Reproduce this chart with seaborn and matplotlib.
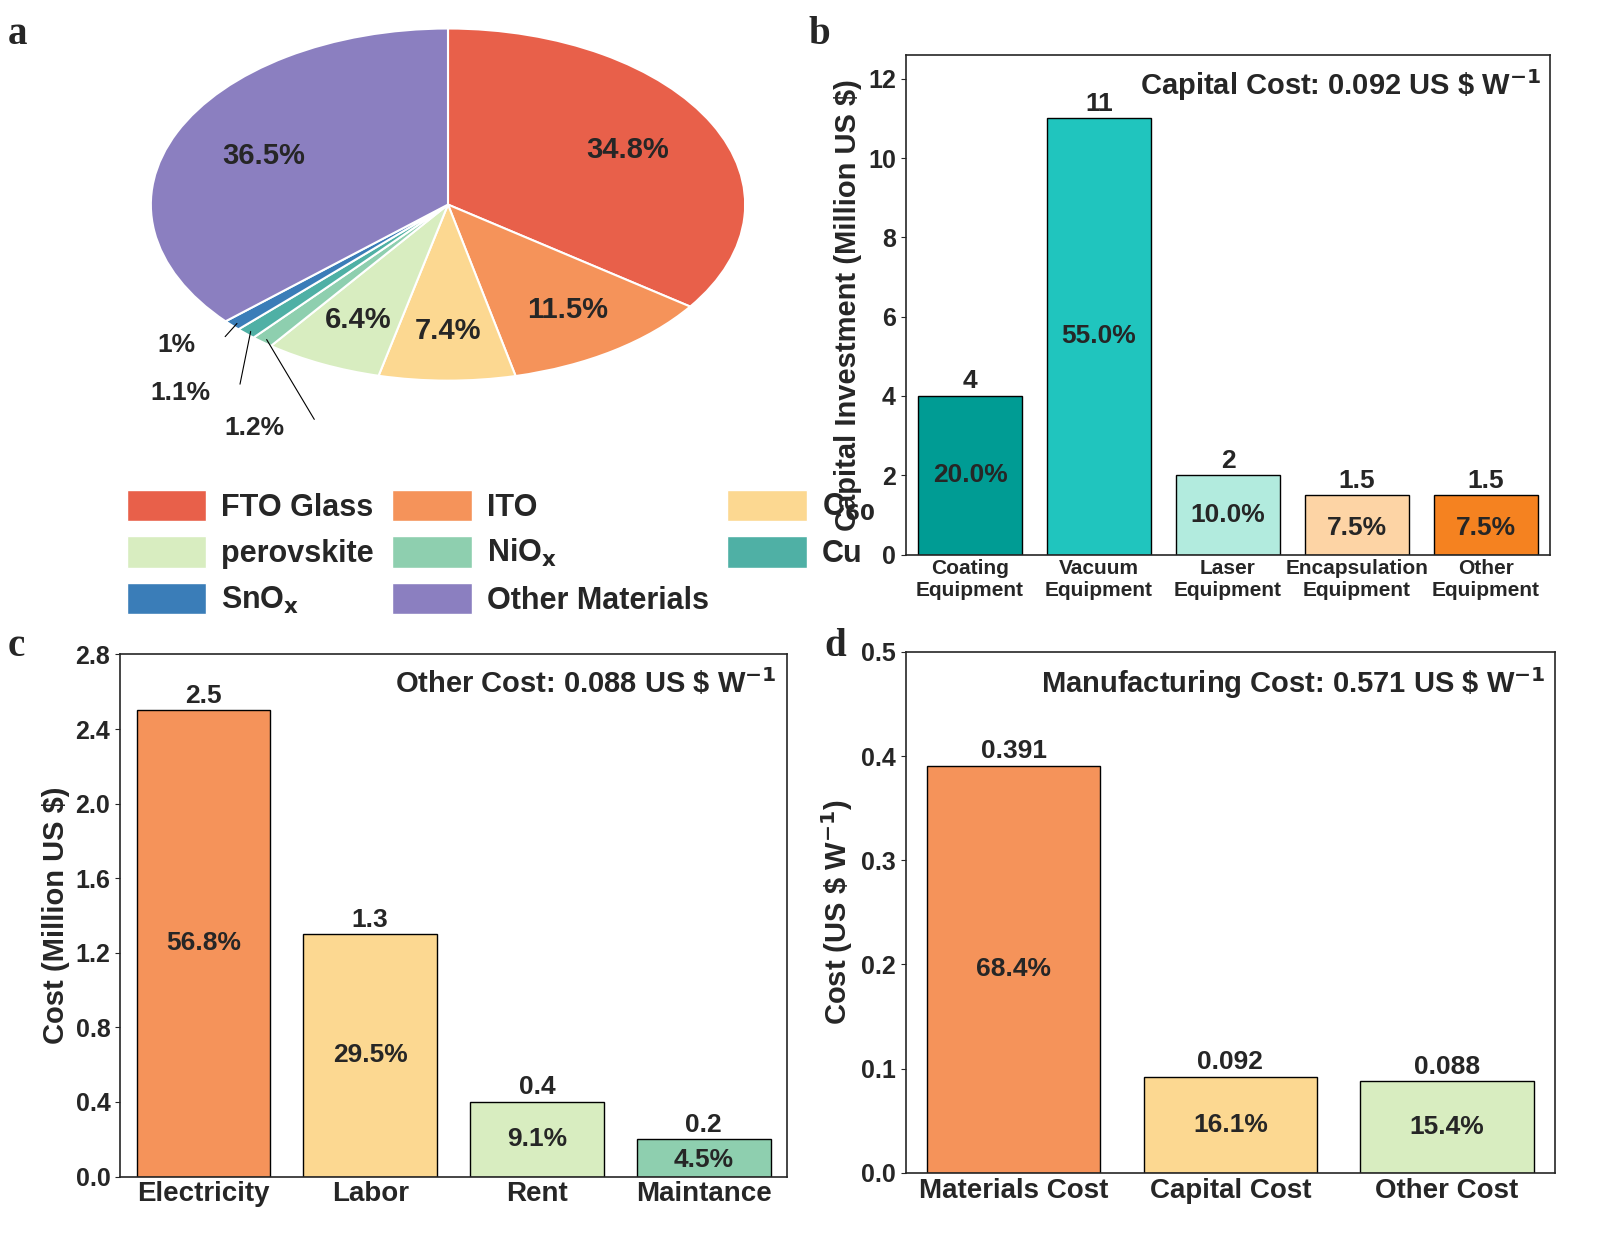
import matplotlib
matplotlib.use("Agg")
import matplotlib.pyplot as plt
import seaborn as sns
import pandas as pd
import numpy as np
from matplotlib.patches import Patch

sns.set_style("ticks")
plt.rcParams['font.family'] = ['Liberation Sans', 'DejaVu Sans']
plt.rcParams['font.weight'] = 'bold'
plt.rcParams['axes.labelweight'] = 'bold'
plt.rcParams['mathtext.default'] = 'bf'

pie_labels = ["FTO Glass", "ITO", "C$_{60}$", "perovskite", "NiO$_\\mathbf{x}$", "Cu", "SnO$_\\mathbf{x}$", "Other Materials"]
pie_vals = [34.8, 11.5, 7.4, 6.4, 1.2, 1.1, 1.0, 36.5]
pie_colors = ["#E8604A", "#F5935A", "#FCD891", "#D8EDC0", "#8ECFAF", "#4FB0A5", "#3A7DB8", "#8B7FC0"]

cap_cats = ["Coating\nEquipment", "Vacuum\nEquipment", "Laser\nEquipment", "Encapsulation\nEquipment", "Other\nEquipment"]
cap_vals = [4, 11, 2, 1.5, 1.5]
cap_pct = ["20.0%", "55.0%", "10.0%", "7.5%", "7.5%"]
cap_colors = ["#009C94", "#20C5BE", "#B2EBDE", "#FDD4A5", "#F58220"]

oth_cats = ["Electricity", "Labor", "Rent", "Maintance"]
oth_vals = [2.5, 1.3, 0.4, 0.2]
oth_pct = ["56.8%", "29.5%", "9.1%", "4.5%"]
oth_colors = ["#F5935A", "#FCD891", "#D8EDC0", "#8ECFAF"]

man_cats = ["Materials Cost", "Capital Cost", "Other Cost"]
man_vals = [0.391, 0.092, 0.088]
man_lbl = ["0.391", "0.092", "0.088"]
man_pct = ["68.4%", "16.1%", "15.4%"]
man_colors = ["#F5935A", "#FCD891", "#D8EDC0"]

fig = plt.figure(figsize=(16, 12.49), dpi=100)

# Panel a
axp = fig.add_axes([0.085, 0.66, 0.39, 0.32])
axp.pie(pie_vals, colors=pie_colors, startangle=90, counterclock=False,
        wedgeprops=dict(edgecolor="white", linewidth=1.5))
axp.set_aspect('auto')
axp.set_xlim(-1.05, 1.05); axp.set_ylim(-1.25, 1.02)
ang = 90
mids = []
for v in pie_vals:
    mids.append(ang - v * 3.6 / 2)
    ang -= v * 3.6
for i, v in enumerate(pie_vals):
    t = np.deg2rad(mids[i])
    if v > 5:
        r = 0.68 if v > 20 else 0.72
        axp.text(r * np.cos(t), r * np.sin(t), f"{v}%", ha="center", va="center", fontsize=21, fontweight="bold")
offs = {4: (-0.55, -1.27), 5: (-0.8, -1.07), 6: (-0.85, -0.8)}
for i, (tx, ty) in offs.items():
    t = np.deg2rad(mids[i])
    x0, y0 = 0.98 * np.cos(t), 0.98 * np.sin(t)
    axp.plot([x0, tx + 0.1], [y0, ty + 0.05], color="k", lw=0.8, clip_on=False)
    axp.text(tx, ty, f"{pie_vals[i]:g}%", ha="right", va="center", fontsize=19, fontweight="bold")
order = [0, 3, 6, 1, 4, 7, 2, 5]
handles = [Patch(facecolor=pie_colors[i], label=pie_labels[i]) for i in order]
fig.legend(handles=handles, loc="upper left", bbox_to_anchor=(0.062, 0.63), ncol=3, frameon=False,
           fontsize=22, handlelength=2.6, handleheight=1.2, handletextpad=0.5,
           columnspacing=0.6, labelspacing=0.45)
fig.text(0.005, 0.965, "a", fontsize=28, fontweight="bold", family="Liberation Serif")

def barpanel(rect, cats, vals, pcts, colors, ylim, yticks, ylabel, title, toplbl, fmt, letter, lpos, tick_fs):
    ax = fig.add_axes(rect)
    df = pd.DataFrame({"c": cats, "v": vals})
    sns.barplot(data=df, x="c", y="v", hue="c", palette=colors, legend=False, ax=ax,
                edgecolor="black", linewidth=1, width=0.8, saturation=1)
    ax.set_ylim(*ylim); ax.set_yticks(yticks)
    ax.set_yticklabels([fmt(t) for t in yticks], fontsize=18, fontweight="bold")
    ax.set_xlabel(""); ax.set_ylabel(ylabel, fontsize=21, fontweight="bold")
    ax.tick_params(axis="x", labelsize=tick_fs, length=0)
    for lab in ax.get_xticklabels():
        lab.set_fontweight("bold")
    for sp in ax.spines.values():
        sp.set_visible(True); sp.set_linewidth(1.2)
    for i, (v, p, t) in enumerate(zip(vals, pcts, toplbl)):
        ax.text(i, v + ylim[1] * 0.005, t, ha="center", va="bottom", fontsize=19, fontweight="bold")
        yy = v * 0.5 if v > ylim[1] * 0.12 else v * 0.45
        ax.text(i, yy, p, ha="center", va="center", fontsize=19, fontweight="bold")
    ax.text(0.985, 0.975, title, transform=ax.transAxes, ha="right", va="top", fontsize=21, fontweight="bold")
    fig.text(lpos[0], lpos[1], letter, fontsize=28, fontweight="bold", family="Liberation Serif")
    return ax

barpanel([0.566, 0.556, 0.403, 0.40], cap_cats, cap_vals, cap_pct, cap_colors, (0, 12.6),
         [0, 2, 4, 6, 8, 10, 12], "Capital Investment (Million US \\$)", "Capital Cost: 0.092 US \\$ W$^{-1}$",
         [f"{v:g}" for v in cap_vals], lambda t: f"{t:g}", "b", (0.505, 0.965), 15)
barpanel([0.075, 0.058, 0.417, 0.418], oth_cats, oth_vals, oth_pct, oth_colors, (0, 2.8),
         [0, 0.4, 0.8, 1.2, 1.6, 2.0, 2.4, 2.8], "Cost (Million US \\$)", "Other Cost: 0.088 US \\$ W$^{-1}$",
         [f"{v:g}" for v in oth_vals], lambda t: f"{t:.1f}", "c", (0.005, 0.475), 20)
barpanel([0.566, 0.061, 0.406, 0.417], man_cats, man_vals, man_pct, man_colors, (0, 0.5),
         [0, 0.1, 0.2, 0.3, 0.4, 0.5], "Cost (US \\$ W$^{-1}$)", "Manufacturing Cost: 0.571 US \\$ W$^{-1}$",
         man_lbl, lambda t: f"{t:.1f}", "d", (0.515, 0.475), 20)

fig.savefig("out.png", dpi=100)
